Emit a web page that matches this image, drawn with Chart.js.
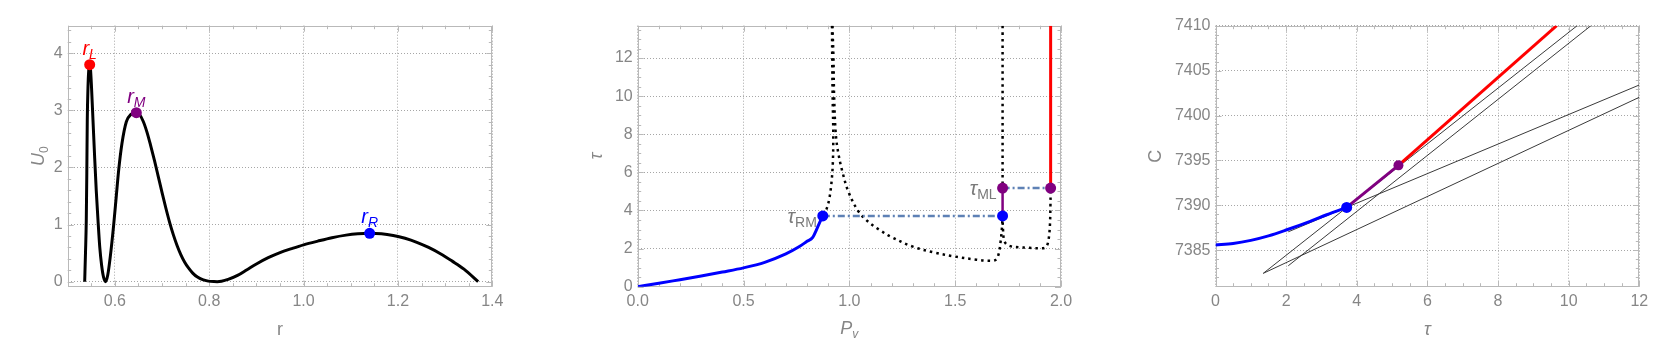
<!DOCTYPE html>
<html><head><meta charset="utf-8">
<script src="https://cdn.jsdelivr.net/npm/chart.js@4.4.1/dist/chart.umd.min.js"></script>
<style>
html,body{margin:0;padding:0;background:#fff;width:1661px;height:358px;overflow:hidden}
canvas{position:absolute;top:0}
</style></head><body>
<canvas id="c1" width="520" height="358" style="left:0px"></canvas>
<canvas id="c2" width="521" height="358" style="left:560px"></canvas>
<canvas id="c3" width="521" height="358" style="left:1140px"></canvas>
<script>
// ---------- Panel 1 : U0(r) ----------
const rVals  = [0.536,0.5377,0.5394,0.5405,0.5415,0.543,0.5446,0.5466,0.5485,0.5505,0.5536,0.557,0.5605,0.5642,0.568,0.572,0.576,0.5805,
  0.585,0.590,0.5975,0.603,0.608,0.615,0.6243,0.634,0.6455,0.652,0.66,0.668,0.676,0.684,0.692,0.700,0.708,0.716,0.724,0.732,0.740,0.748,0.756,0.765,0.775,0.786,0.798,0.81,0.817,
  0.826,0.84,0.86,0.88,0.90,0.925,0.95,0.975,1.0,1.03,1.06,1.09,1.115,1.14,1.165,1.19,1.215,1.24,1.265,1.29,1.315,1.34,1.37];
const u0Vals = [0,0.5,1.08,1.9,2.83,3.4,3.7,3.80,3.7,3.4,2.83,2.2,1.6,1.08,0.6,0.28,0.08,0,
  0.12,0.42,1.0,1.5,1.95,2.42,2.8,2.93,2.96,2.93,2.81,2.62,2.38,2.12,1.84,1.56,1.29,1.04,0.82,0.63,0.47,0.34,0.24,0.15,0.08,0.035,0.01,0.001,0,
  0.008,0.04,0.11,0.21,0.31,0.42,0.51,0.58,0.645,0.71,0.77,0.815,0.838,0.847,0.84,0.81,0.76,0.69,0.60,0.49,0.36,0.22,0];
const rPeaks = [0.5466, 0.6455, 1.14];      // r_L, r_M, r_R
const uPeaks = [3.80, 2.96, 0.847];
const peakNames = ['L', 'M', 'R'];
const x1Ticks = [0.6, 0.8, 1.0, 1.2, 1.4];
const x1Labels = ['0.6', '0.8', '1.0', '1.2', '1.4'];
const y1Ticks = [0, 1, 2, 3, 4];
const y1Labels = ['0', '1', '2', '3', '4'];

// ---------- Panel 2 : tau(Pv) ----------
const tauRM = 3.714, tauML = 5.18, tauTop = 13.7;
const pRM = 0.8745, pM = 1.724, pL = 1.951;
const blueP   = [0, 0.1, 0.2, 0.3, 0.4, 0.5, 0.6, 0.7, 0.76, 0.8, 0.827, 0.845, 0.86, 0.8745];
const blueTau = [0, 0.18, 0.37, 0.56, 0.77, 0.99, 1.28, 1.72, 2.08, 2.38, 2.59, 3.0, 3.38, 3.714];
const dotLeftP   = [0.918, 0.919, 0.921, 0.924, 0.922, 0.915, 0.905, 0.893, 0.8745];
const dotLeftTau = [13.7, 12, 10, 8, 6.5, 5.4, 4.6, 4.1, 3.714];
const dotRightP   = [0.920, 0.925, 0.928, 0.936, 0.948, 0.968, 0.995, 1.04, 1.09, 1.14, 1.2, 1.3, 1.4, 1.5, 1.6, 1.656, 1.69, 1.705, 1.715, 1.721, 1.724];
const dotRightTau = [13.7, 12, 10, 8, 7, 6, 5, 4, 3.4, 3.0, 2.6, 2.1, 1.8, 1.58, 1.42, 1.36, 1.4, 1.7, 2.4, 3.1, 3.714];
const dotVertP   = [1.724, 1.724];
const dotVertTau = [13.7, 5.18];
const dotLowP   = [1.724, 1.726, 1.73, 1.74, 1.76, 1.8, 1.85, 1.9, 1.925, 1.937, 1.944, 1.948, 1.950, 1.951];
const dotLowTau = [3.714, 3.0, 2.5, 2.25, 2.13, 2.07, 2.04, 2.02, 2.05, 2.25, 2.7, 3.3, 4.2, 5.18];
const x2Ticks = [0, 0.5, 1.0, 1.5, 2.0];
const x2Labels = ['0.0', '0.5', '1.0', '1.5', '2.0'];
const y2Ticks = [0, 2, 4, 6, 8, 10, 12];
const y2Labels = ['0', '2', '4', '6', '8', '10', '12'];

// ---------- Panel 3 : C(tau) ----------
const blueTau3 = [0, 0.5, 1.0, 1.5, 2.0, 2.68, 3.15, 3.714];
const blueC3   = [7385.58, 7385.75, 7386.1, 7386.6, 7387.25, 7388.22, 7388.95, 7389.77];
const purpleTau3 = [3.714, 5.18];
const purpleC3   = [7389.77, 7394.45];
const redTau3 = [5.18, 9.66];
const redC3   = [7394.45, 7410];
const tanATau = [1.353, 10.24], tanAC = [7382.43, 7410];
const tanBTau = [2.06, 10.63],  tanBC = [7383.27, 7410];
const tanCTau = [2.06, 12],     tanCC = [7387.05, 7403.4];
const tanDTau = [1.353, 12],    tanDC = [7382.43, 7402.03];
const x3Ticks = [0, 2, 4, 6, 8, 10, 12];
const x3Labels = ['0', '2', '4', '6', '8', '10', '12'];
const y3Ticks = [7385, 7390, 7395, 7400, 7405, 7410];
const y3Labels = ['7385', '7390', '7395', '7400', '7405', '7410'];

// ---------- styling ----------
const FONT = "'Liberation Sans', Arial, Helvetica, sans-serif";
const LABEL = '#868686', FRAME = '#b9b9b9', GRID = '#a6a6a6';
const BLUE = '#0000ff', RED = '#ff0000', PURPLE = '#800080', DASHBLUE = '#5e81b5';

const pts = (xs, ys) => xs.map((x, i) => ({x: x, y: ys[i]}));
const line = (xs, ys, color, width, extra) => Object.assign({
  data: pts(xs, ys), showLine: true, borderColor: color, backgroundColor: color,
  borderWidth: width, pointRadius: 0, pointHoverRadius: 0, fill: false, order: 5
}, extra || {});
const dots = (xs, ys, color, r) => ({
  data: pts(xs, ys), showLine: false, pointRadius: r, pointHoverRadius: r,
  pointBackgroundColor: color, pointBorderColor: color, pointBorderWidth: 0, order: 0
});

function axis(min, max, ticks, labels, fit, isX) {
  return {
    type: 'linear', min: min, max: max, bounds: 'data',
    afterBuildTicks: s => { s.ticks = ticks.map(v => ({value: v})); },
    afterFit: s => { if (isX) s.height = fit; else s.width = fit; },
    ticks: { autoSkip: false, maxRotation: 0, minRotation: 0, padding: 5,
      color: LABEL, font: {family: FONT, size: 16},
      callback: (v, i) => labels[i] },
    grid: { color: GRID, lineWidth: 1, drawTicks: false, tickLength: 0 },
    border: { display: false, dash: [1, 2] },
    title: { display: false }
  };
}

function rich(ctx, parts, x, y, align, color, rot) {
  ctx.save();
  ctx.translate(x, y);
  if (rot) ctx.rotate(rot);
  ctx.fillStyle = color;
  ctx.textBaseline = 'alphabetic';
  let w = 0;
  parts.forEach(p => { ctx.font = p[1]; w += ctx.measureText(p[0]).width; });
  let cx = align === 'center' ? -w / 2 : (align === 'right' ? -w : 0);
  parts.forEach(p => { ctx.font = p[1]; ctx.fillText(p[0], cx, p[2] || 0); cx += ctx.measureText(p[0]).width; });
  ctx.restore();
}
const F = (s, it) => (it ? 'italic ' : '') + s + 'px ' + FONT;

const decoCfg = {
  c1: {xMinor: 0.05, yMinor: 0.2},
  c2: {xMinor: 0.1, yMinor: 0.5},
  c3: {xMinor: 0.5, yMinor: 1}
};
const xTicksOf = {c1: x1Ticks, c2: x2Ticks, c3: x3Ticks};
const yTicksOf = {c1: y1Ticks, c2: y2Ticks, c3: y3Ticks};

const labelDrawers = {
  c1: (ctx, a, x, y) => {
    const cols = [RED, PURPLE, BLUE];
    rPeaks.forEach((r, i) => {
      rich(ctx, [['r', F(20, true)], [peakNames[i], F(14, true), 4]],
        x.getPixelForValue(r), y.getPixelForValue(uPeaks[i]) - 10, 'center', cols[i]);
    });
    rich(ctx, [['r', F(18)]], (a.left + a.right) / 2, 335, 'center', LABEL);
    rich(ctx, [['U', F(18, true)], ['0', F(12), 4]], a.left - 24, (a.top + a.bottom) / 2, 'center', LABEL, -Math.PI / 2);
  },
  c2: (ctx, a, x, y) => {
    rich(ctx, [['τ', F(20, true)], ['RM', F(14), 4]], x.getPixelForValue(pRM) - 6, y.getPixelForValue(tauRM) + 7, 'right', '#7a7a7a');
    rich(ctx, [['τ', F(20, true)], ['ML', F(14), 4]], x.getPixelForValue(pM) - 6, y.getPixelForValue(tauML) + 7, 'right', '#7a7a7a');
    rich(ctx, [['P', F(18, true)], ['v', F(12, true), 4]], (a.left + a.right) / 2, 334, 'center', LABEL);
    rich(ctx, [['τ', F(18, true)]], a.left - 36, (a.top + a.bottom) / 2, 'center', LABEL, -Math.PI / 2);
  },
  c3: (ctx, a, x, y) => {
    rich(ctx, [['τ', F(18, true)]], (a.left + a.right) / 2, 335, 'center', LABEL);
    rich(ctx, [['C', F(18)]], a.left - 55, (a.top + a.bottom) / 2, 'center', LABEL, -Math.PI / 2);
  }
};

const decorPlugin = {
  id: 'decor',
  beforeDatasetsDraw(chart) {
    const id = chart.canvas.id, cfg = decoCfg[id];
    const {ctx, chartArea: a} = chart, x = chart.scales.x, y = chart.scales.y;
    ctx.save();
    ctx.strokeStyle = FRAME; ctx.lineWidth = 1;
    ctx.beginPath();
    const majX = xTicksOf[id], majY = yTicksOf[id];
    const near = (v, arr) => arr.some(t => Math.abs(t - v) < 1e-6);
    for (let v = Math.ceil(x.min / cfg.xMinor - 1e-9) * cfg.xMinor; v <= x.max + 1e-9; v += cfg.xMinor) {
      const len = near(v, majX) ? 6 : 3.5;
      const px = Math.round(x.getPixelForValue(v)) + 0.5;
      ctx.moveTo(px, a.bottom); ctx.lineTo(px, a.bottom - len);
      ctx.moveTo(px, a.top); ctx.lineTo(px, a.top + len);
    }
    for (let v = Math.ceil(y.min / cfg.yMinor - 1e-9) * cfg.yMinor; v <= y.max + 1e-9; v += cfg.yMinor) {
      const len = near(v, majY) ? 6 : 3.5;
      const py = Math.round(y.getPixelForValue(v)) + 0.5;
      ctx.moveTo(a.left, py); ctx.lineTo(a.left + len, py);
      ctx.moveTo(a.right, py); ctx.lineTo(a.right - len, py);
    }
    ctx.stroke();
    ctx.strokeRect(Math.round(a.left) + 0.5, Math.round(a.top) + 0.5, Math.round(a.right) - Math.round(a.left) - 1, Math.round(a.bottom) - Math.round(a.top) - 1);
    ctx.restore();
  },
  afterDraw(chart) {
    const {ctx, chartArea: a} = chart;
    labelDrawers[chart.canvas.id](ctx, a, chart.scales.x, chart.scales.y);
  }
};

function makeChart(id, datasets, xs, ys, pad) {
  return new Chart(document.getElementById(id), {
    type: 'scatter',
    data: {datasets: datasets},
    options: {
      responsive: false, animation: false, events: [],
      layout: {padding: pad},
      plugins: {legend: {display: false}, tooltip: {enabled: false}},
      scales: {x: xs, y: ys}
    },
    plugins: [decorPlugin]
  });
}

// Panel 1
makeChart('c1', [
  dots([rPeaks[0]], [uPeaks[0]], RED, 5.5),
  dots([rPeaks[1]], [uPeaks[1]], PURPLE, 5.5),
  dots([rPeaks[2]], [uPeaks[2]], BLUE, 5.5),
  line(rVals, u0Vals, '#000000', 3, {cubicInterpolationMode: 'monotone'})
], axis(0.5, 1.4, x1Ticks, x1Labels, 71.3, true),
   axis(-0.088, 4.483, y1Ticks, y1Labels, 67.7, false),
   {left: 0, right: 27.7, top: 25.7, bottom: 0});

// Panel 2
const dotted = {borderDash: [2.5, 4], borderCapStyle: 'butt', tension: 0.35};
makeChart('c2', [
  dots([pRM, pM], [tauRM, tauRM], BLUE, 5.5),
  dots([pM, pL], [tauML, tauML], PURPLE, 5.5),
  line(blueP, blueTau, BLUE, 3, {cubicInterpolationMode: 'monotone', order: 2}),
  line([pRM, pM], [tauRM, tauRM], DASHBLUE, 2.5, {borderDash: [7, 3, 2, 3], order: 3}),
  line([pM, pL], [tauML, tauML], DASHBLUE, 2.5, {borderDash: [7, 3, 2, 3], order: 3}),
  line([pM, pM], [tauRM, tauML], PURPLE, 2.5, {order: 2}),
  line([pL, pL], [tauML, tauTop], RED, 3, {order: 2}),
  line(dotLeftP, dotLeftTau, '#000000', 2.5, dotted),
  line(dotRightP, dotRightTau, '#000000', 2.5, dotted),
  line(dotVertP, dotVertTau, '#000000', 2.5, dotted),
  line(dotLowP, dotLowTau, '#000000', 2.5, dotted)
], axis(0, 2, x2Ticks, x2Labels, 71.3, true),
   axis(0, tauTop, y2Ticks, y2Labels, 77.7, false),
   {left: 0, right: 20, top: 25.7, bottom: 0});

// Panel 3
makeChart('c3', [
  dots([purpleTau3[0]], [purpleC3[0]], BLUE, 5.5),
  dots([purpleTau3[1]], [purpleC3[1]], PURPLE, 5),
  line(blueTau3, blueC3, BLUE, 3, {cubicInterpolationMode: 'monotone', order: 2}),
  line(purpleTau3, purpleC3, PURPLE, 3, {order: 2}),
  line(redTau3, redC3, RED, 3, {order: 2}),
  line(tanATau, tanAC, '#3a3a3a', 1),
  line(tanBTau, tanBC, '#3a3a3a', 1),
  line(tanCTau, tanCC, '#3a3a3a', 1),
  line(tanDTau, tanDC, '#3a3a3a', 1)
], axis(0, 12, x3Ticks, x3Labels, 71.3, true),
   axis(7380.94, 7410, y3Ticks, y3Labels, 75.5, false),
   {left: 0, right: 21.7, top: 25.7, bottom: 0});
</script>
</body></html>
